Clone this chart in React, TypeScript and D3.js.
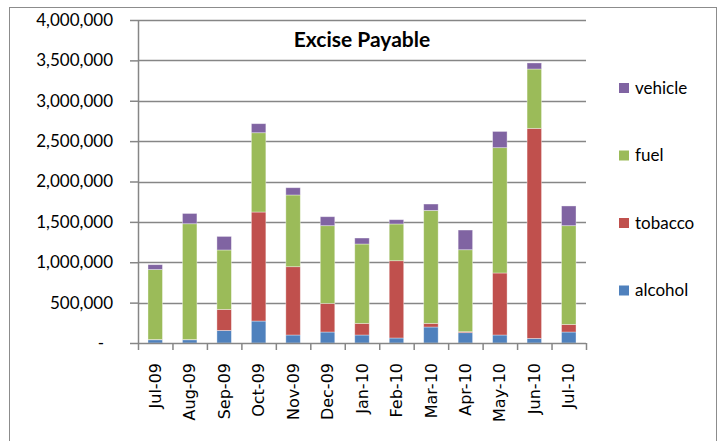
import * as d3 from 'd3';
import { useEffect, useRef } from 'react';

const months = ['Jul-09', 'Aug-09', 'Sep-09', 'Oct-09', 'Nov-09', 'Dec-09', 'Jan-10', 'Feb-10', 'Mar-10', 'Apr-10', 'May-10', 'Jun-10', 'Jul-10'];
const alcohol = [40000, 40000, 156000, 272000, 99000, 136000, 99000, 62000, 198000, 128000, 99000, 57000, 136000];
const tobacco = [3000, 3000, 260000, 1350000, 846000, 354000, 144000, 957000, 45000, 12000, 768000, 2601000, 94000];
const fuel = [867000, 1434000, 736000, 982000, 888000, 963000, 983000, 455000, 1399000, 1015000, 1552000, 735000, 1223000];
const vehicle = [60000, 127000, 168000, 112000, 90000, 111000, 74000, 53000, 79000, 244000, 201000, 75000, 244000];
const seriesNames = ['alcohol', 'tobacco', 'fuel', 'vehicle'];
const colors = ['#4F81BD', '#C0504D', '#9BBB59', '#8064A2'];
const yTicks = [0, 500000, 1000000, 1500000, 2000000, 2500000, 3000000, 3500000, 4000000];

const W = 720;
const H = 441;
const m = { left: 138, right: 134, top: 20, bottom: 98 };
const font = 'Lato, "Open Sans", sans-serif';
const xFont = '"DejaVu Sans", sans-serif';
const grey = '#868686';

const App = () => {
  const ref = useRef<SVGSVGElement>(null);

  useEffect(() => {
    const svg = d3.select(ref.current);
    svg.selectAll('*').remove();

    const rows = months.map((mo, i) => ({
      month: mo,
      alcohol: alcohol[i],
      tobacco: tobacco[i],
      fuel: fuel[i],
      vehicle: vehicle[i],
    }));
    const stack = d3.stack<any>().keys(seriesNames)(rows);

    const x = d3.scaleBand(months, [m.left, W - m.right]).padding(0);
    const y = d3.scaleLinear([0, 4000000], [H - m.bottom, m.top]);
    const barW = x.bandwidth() * 0.42;

    // chart frame
    svg
      .append('rect')
      .attr('x', 9.5)
      .attr('y', 7.5)
      .attr('width', 707)
      .attr('height', 440)
      .attr('fill', 'white')
      .attr('stroke', '#8c8c8c');

    // gridlines
    svg
      .append('g')
      .selectAll('line')
      .data(yTicks.filter((t) => t > 0))
      .join('line')
      .attr('x1', m.left)
      .attr('x2', W - m.right)
      .attr('y1', (d) => Math.round(y(d)) + 0.5)
      .attr('y2', (d) => Math.round(y(d)) + 0.5)
      .attr('stroke', grey)
      .attr('stroke-width', 1.5);

    // bars
    svg
      .append('g')
      .selectAll('g')
      .data(stack)
      .join('g')
      .attr('fill', (_, i) => colors[i])
      .selectAll('rect')
      .data((d) => d)
      .join('rect')
      .attr('x', (d: any) => (x(d.data.month) ?? 0) + (x.bandwidth() - barW) / 2)
      .attr('y', (d) => y(d[1]))
      .attr('width', barW)
      .attr('height', (d) => Math.max(0, y(d[0]) - y(d[1])))
      .attr('stroke', 'rgba(255,255,255,0.45)')
      .attr('stroke-width', 0.8);

    // y axis
    const yAxis = svg
      .append('g')
      .attr('transform', `translate(${m.left},0)`)
      .call(
        d3
          .axisLeft(y)
          .tickValues(yTicks)
          .tickSize(8)
          .tickPadding(17)
          .tickFormat((d) => (+d === 0 ? '-' : d3.format(',')(+d))),
      );
    yAxis.select('.domain').attr('stroke', grey).attr('stroke-width', 1.5).attr('d', `M0.5,${m.top}V${H - m.bottom}`);
    yAxis.selectAll('line').attr('stroke', grey).attr('stroke-width', 1.5);
    yAxis
      .selectAll('text')
      .attr('font-family', font)
      .attr('font-size', 17)
      .attr('fill', '#000')
      .attr('dx', (d: any) => (d === 0 ? -9 : 0));

    // x axis
    const xAxis = svg
      .append('g')
      .attr('transform', `translate(0,${H - m.bottom})`)
      .call(d3.axisBottom(x).tickSize(0).tickPadding(0));
    xAxis.select('.domain').remove();
    xAxis
      .selectAll('text')
      .attr('font-family', xFont)
      .attr('font-size', 16)
      .attr('fill', '#000')
      .attr('transform', 'rotate(-90)')
      .attr('text-anchor', 'end')
      .attr('x', -20)
      .attr('y', 0)
      .attr('dy', '0.35em');
    xAxis
      .append('path')
      .attr('d', `M${m.left},0.5H${W - m.right}`)
      .attr('stroke', grey)
      .attr('stroke-width', 1.5);
    xAxis
      .selectAll('.bound')
      .data([...months.map((mo) => x(mo) ?? 0), W - m.right])
      .join('line')
      .attr('class', 'bound')
      .attr('x1', (d) => d + 0.5)
      .attr('x2', (d) => d + 0.5)
      .attr('y1', 0)
      .attr('y2', 7)
      .attr('stroke', grey)
      .attr('stroke-width', 1.5);

    // title
    svg
      .append('text')
      .attr('x', (m.left + W - m.right) / 2)
      .attr('y', 47)
      .attr('text-anchor', 'middle')
      .attr('font-family', font)
      .attr('font-weight', 'bold')
      .attr('font-size', 21)
      .text('Excise Payable');

    // legend
    const legend = svg
      .append('g')
      .selectAll('g')
      .data(seriesNames.map((s, i) => ({ s, c: colors[i] })).reverse())
      .join('g')
      .attr('transform', (_, i) => `translate(619,${88 + i * 67.5})`);
    legend.append('rect').attr('x', 0).attr('y', -5).attr('width', 10).attr('height', 10).attr('fill', (d) => d.c);
    legend
      .append('text')
      .attr('x', 16)
      .attr('y', 0)
      .attr('dy', '0.35em')
      .attr('font-family', font)
      .attr('font-size', 17)
      .text((d) => d.s);
  }, []);

  return (
    <svg ref={ref} width={W} height={H} style={{ position: 'absolute', left: 0, top: 0, background: 'white' }} />
  );
};

export default App;
